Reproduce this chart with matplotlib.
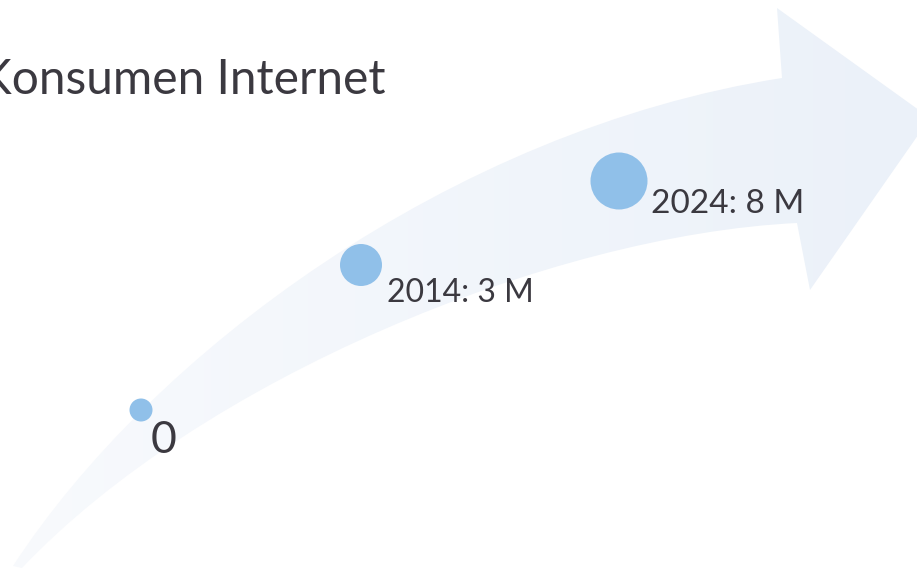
import numpy as np
import matplotlib
matplotlib.use('Agg')
import matplotlib.pyplot as plt
from matplotlib.path import Path
from matplotlib.patches import PathPatch
from matplotlib.colors import LinearSegmentedColormap

# data
title = 'Konsumen Internet'
years = [None, 2014, 2024]
values = [0, 3, 8]  # juta konsumen
labels = ['0' if y is None else '%d: %d M' % (y, v) for y, v in zip(years, values)]

# layout (pixel coords, y down)
pt_xy = [(141, 410), (361, 265), (619, 181)]
pt_r = [11.5, 21, 28.5]
lab_xy = [(151, 453), (387, 302), (651, 213)]
lab_fs = [32, 23, 24]

W, H = 917, 574
fig = plt.figure(figsize=(W / 100, H / 100), dpi=100)
ax = fig.add_axes([0, 0, 1, 1])
ax.set_xlim(0, W)
ax.set_ylim(H, 0)
ax.axis('off')

# curved arrow shape
verts = [(13, 566),
         (150, 355), (450, 130), (782, 78),   # upper edge
         (777, 8), (930, 118), (810, 290), (797, 223),  # head
         (550, 235), (200, 380), (22, 568),   # lower edge
         (13, 566)]
codes = [Path.MOVETO,
         Path.CURVE4, Path.CURVE4, Path.CURVE4,
         Path.LINETO, Path.LINETO, Path.LINETO, Path.LINETO,
         Path.CURVE4, Path.CURVE4, Path.CURVE4,
         Path.CLOSEPOLY]
arrow = PathPatch(Path(verts, codes), facecolor='none', edgecolor='none')
ax.add_patch(arrow)
cmap = LinearSegmentedColormap.from_list('arr', ['#f8fafd', '#ebf1f9'])
grad = np.linspace(0, 1, 256).reshape(1, -1)
img = ax.imshow(grad, cmap=cmap, extent=(0, W, H, 0), aspect='auto', zorder=1)
img.set_clip_path(arrow)

# bubbles
xs = [p[0] for p in pt_xy]
ys = [p[1] for p in pt_xy]
sizes = [(2 * r * 0.72) ** 2 for r in pt_r]
ax.scatter(xs, ys, s=sizes, color='#90c0e9', edgecolors='none', zorder=3)

txt_col = '#3b3940'
for lab, (x, y), fs in zip(labels, lab_xy, lab_fs):
    ax.text(x, y, lab, fontsize=fs, color=txt_col, family='Lato',
            ha='left', va='baseline', zorder=4)

ax.text(385, 94, title, fontsize=34.5, color=txt_col, family='Lato',
        ha='right', va='baseline', zorder=4)

fig.savefig('out.png', dpi=100)
